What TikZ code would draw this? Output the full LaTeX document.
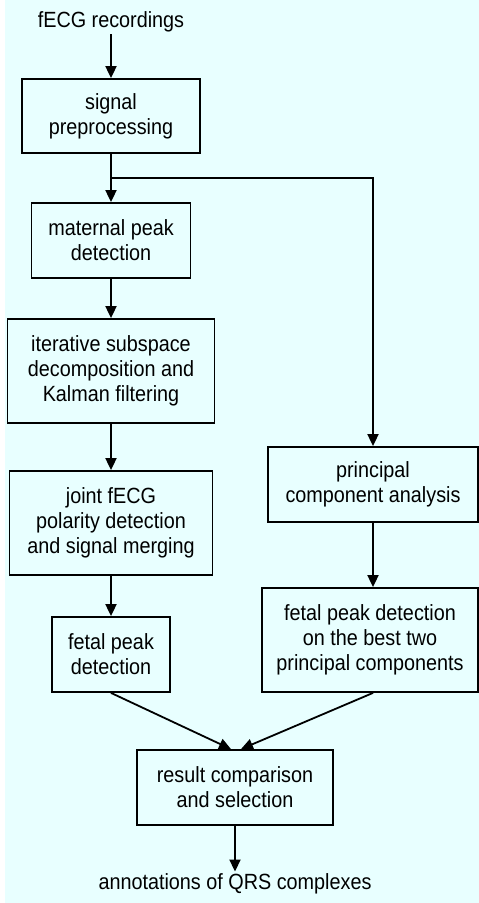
\documentclass[tikz,border=0pt]{standalone}
\usepackage{fontspec}
\setmainfont[FakeStretch=0.9]{Liberation Sans}
\usetikzlibrary{arrows.meta, positioning, calc}
\definecolor{bgcyan}{RGB}{232, 255, 255}

\begin{document}
\begin{tikzpicture}[x=1pt, y=-1pt,
  stagebox/.style={draw, line width=1.8pt, fill=bgcyan, align=center, inner sep=0pt, font=\fontsize{22}{25}\selectfont},
  iotext/.style={font=\fontsize{22}{25}\selectfont, inner sep=2pt},
  flow/.style={-{Triangle[length=12pt, width=11pt]}, line width=1.8pt}]
  % Background
  \useasboundingbox (0,0) rectangle (479,903);
  \fill[bgcyan] (5,0) rectangle (479,903);

  % Input
  \node[iotext] (input) at (111,22) {fECG recordings};

  % Left column
  \node[stagebox, minimum width=178, minimum height=74] (prep) at (111,116) {signal\\preprocessing};
  \node[stagebox, minimum width=159, minimum height=75] (mpeak) at (111,240.5) {maternal peak\\detection};
  \node[stagebox, minimum width=207, minimum height=104] (iskf) at (111,371) {iterative subspace\\decomposition and\\Kalman filtering};
  \node[stagebox, minimum width=203, minimum height=104] (joint) at (111,523) {joint fECG\\polarity detection\\and signal merging};
  \node[stagebox, minimum width=118, minimum height=75] (fpeak) at (111,654.5) {fetal peak\\detection};

  % Right column
  \coordinate (split) at (111,178);
  \node[stagebox, minimum width=210, minimum height=75] (pca) at (373,484.5) {principal\\component analysis};
  \node[stagebox, minimum width=216, minimum height=104] (pcpeak) at (370,640) {fetal peak detection\\on the best two\\principal components};

  % Output
  \node[stagebox, minimum width=196, minimum height=75] (select) at (235,787.5) {result comparison\\and selection};
  \node[iotext] (output) at (235,884) {annotations of QRS complexes};

  % Connections
  \draw[flow] (input) -- (prep);
  \draw[flow] (prep) -- (mpeak);
  \draw[flow] (mpeak) -- (iskf);
  \draw[flow] (iskf) -- (joint);
  \draw[flow] (joint) -- (fpeak);
  \draw[flow] (split) -| (pca);
  \draw[flow] (pca.south) -- (pca.south |- pcpeak.north);
  \draw[flow] (fpeak.south) -- ([xshift=-4pt]select.north);
  \draw[flow] ([xshift=3pt]pcpeak.south) -- ([xshift=6pt]select.north);
  \draw[flow] (select) -- (output);
\end{tikzpicture}
\end{document}
